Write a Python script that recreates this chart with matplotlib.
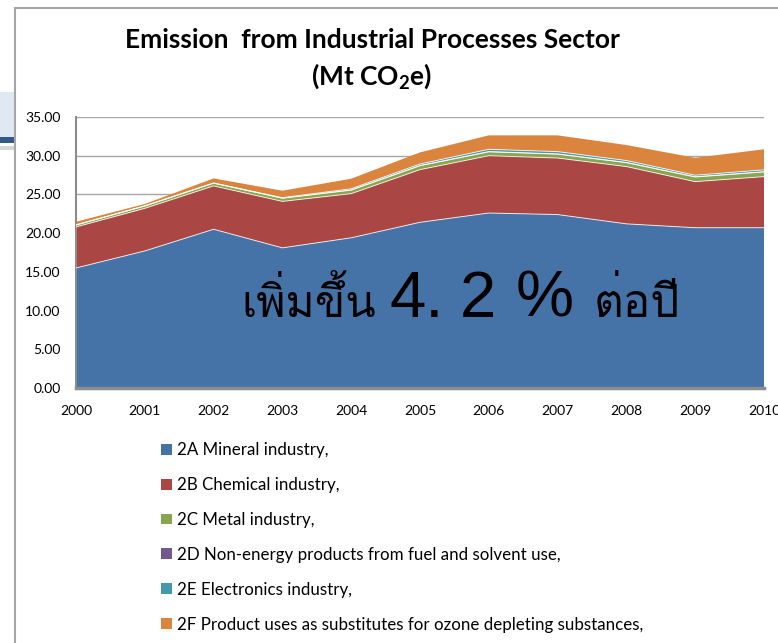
import numpy as np
import matplotlib
matplotlib.use('Agg')
import matplotlib.pyplot as plt
from matplotlib import font_manager, ft2font
from matplotlib.patches import Patch, Rectangle

# Emissions by sub-sector, Mt CO2e
years = [2000, 2001, 2002, 2003, 2004, 2005, 2006, 2007, 2008, 2009, 2010]
mineral = [15.5, 17.7, 20.5, 18.1, 19.4, 21.4, 22.6, 22.4, 21.2, 20.7, 20.7]
chemical = [5.3, 5.5, 5.6, 6.0, 5.7, 6.8, 7.4, 7.3, 7.4, 5.95, 6.6]
metal = [0.25, 0.3, 0.35, 0.4, 0.45, 0.5, 0.5, 0.5, 0.5, 0.6, 0.6]
non_energy = [0.02, 0.02, 0.02, 0.03, 0.03, 0.03, 0.03, 0.03, 0.03, 0.03, 0.03]
electronics = [0.0, 0.0, 0.0, 0.05, 0.15, 0.2, 0.3, 0.3, 0.25, 0.2, 0.25]
ods_subst = [0.4, 0.25, 0.6, 0.9, 1.3, 1.5, 1.8, 2.1, 2.0, 2.25, 2.65]

labels = ['2A Mineral industry,',
          '2B Chemical industry,',
          '2C Metal industry,',
          '2D Non-energy products from fuel and solvent use,',
          '2E Electronics industry,',
          '2F Product uses as substitutes for ozone depleting substances,']
colors = ['#4572A7', '#AA4643', '#89A54E', '#71588F', '#4198AF', '#DB843D']

series = [mineral, chemical, metal, non_energy, electronics, ods_subst]


def find_thai_font():
    # pick any installed font that carries Thai glyphs
    for f in font_manager.fontManager.ttflist:
        try:
            ft = ft2font.FT2Font(f.fname)
            if ft.get_char_index(0x0E40) and ft.get_char_index(0x0E1E) and ft.get_char_index(0x0E15):
                return f.name
        except Exception:
            continue
    return 'DejaVu Sans'


thai = find_thai_font()
base = 'Lato'

plt.rcParams['font.family'] = [base, 'DejaVu Sans']
plt.rcParams['mathtext.fontset'] = 'custom'
plt.rcParams['mathtext.rm'] = 'Lato:bold'
plt.rcParams['mathtext.default'] = 'rm'

W, H = 778, 643
fig = plt.figure(figsize=(W / 100, H / 100), dpi=100)


def px(x0, y0, x1, y1):
    return [x0 / W, 1 - y1 / H, (x1 - x0) / W, (y1 - y0) / H]


# slide decoration on the far left and the chart frame
fig.patches.append(Rectangle((0, 1 - 137 / H), 15 / W, 45 / H, transform=fig.transFigure,
                             facecolor='#dfe8f3', edgecolor='none'))
fig.patches.append(Rectangle((0, 1 - 143 / H), 15 / W, 6 / H, transform=fig.transFigure,
                             facecolor='#2f5b85', edgecolor='none'))
fig.patches.append(Rectangle((0, 1 - 150 / H), 15 / W, 4 / H, transform=fig.transFigure,
                             facecolor='#d6d6d6', edgecolor='none'))
fig.patches.append(Rectangle((15 / W, -0.05), 1.1, 1.05 - 8 / H, transform=fig.transFigure,
                             facecolor='none', edgecolor='#a6a6a6', linewidth=1.5))

ax = fig.add_axes(px(76, 117, 764, 388))
ax.stackplot(years, *series, colors=colors, linewidth=0, zorder=2)

# thin white seams between the stacked layers
cum = np.cumsum(np.array(series), axis=0)
for row in cum[:-1]:
    ax.plot(years, row, color='white', linewidth=0.7, alpha=0.8, zorder=3)

ax.set_xlim(2000, 2010)
ax.set_ylim(0, 35)
ax.set_xticks(years)
ax.set_yticks(np.arange(0, 36, 5))
ax.set_yticklabels([f'{v:.2f}' for v in np.arange(0, 36, 5)])
ax.tick_params(axis='both', length=0, labelsize=10, colors='black')
ax.tick_params(axis='y', pad=11)
ax.tick_params(axis='x', pad=12)
ax.grid(axis='y', color='#a6a6a6', linewidth=1, zorder=0)
ax.set_axisbelow(True)
for s in ['top', 'right']:
    ax.spines[s].set_visible(False)
ax.spines['left'].set_color('#8c8c8c')
ax.spines['left'].set_linewidth(1.5)
ax.spines['bottom'].set_color('#8c8c8c')
ax.spines['bottom'].set_linewidth(2.5)

# growth note on top of the areas
note_y = 9.2
ax.text(2002.4, note_y, 'เพิ่มขึ้น', family=[thai, 'DejaVu Sans'], fontsize=32,
        ha='left', va='baseline', zorder=5)
ax.text(2004.56, note_y, '4.', family=['Liberation Sans'], fontsize=47,
        ha='left', va='baseline', zorder=5)
ax.text(2005.58, note_y, '2', family=['Liberation Sans'], fontsize=47,
        ha='left', va='baseline', zorder=5)
ax.text(2006.39, note_y, '%', family=['Liberation Sans'], fontsize=47,
        ha='left', va='baseline', zorder=5)
ax.text(2007.52, note_y, 'ต่อปี', family=[thai, 'DejaVu Sans'], fontsize=33,
        ha='left', va='baseline', zorder=5)

fig.text(372 / W, 1 - 40 / H, 'Emission  from Industrial Processes Sector',
         ha='center', va='center', fontsize=19, fontweight='bold')
fig.text(372 / W, 1 - 76 / H, r'(Mt CO$_2$e)',
         ha='center', va='center', fontsize=19, fontweight='bold')

handles = [Patch(facecolor=c, edgecolor='none') for c in colors]
fig.legend(handles, labels, loc='upper left', bbox_to_anchor=(161 / W, 1 - 442 / H),
           frameon=False, fontsize=12.2, labelspacing=1.12, handlelength=0.62,
           handleheight=0.62, handletextpad=0.3, borderaxespad=0, borderpad=0)

fig.savefig('out.png', dpi=100)
